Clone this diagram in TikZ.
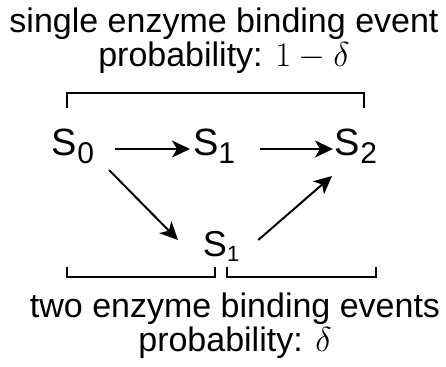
\documentclass[tikz,border=0pt]{standalone}
\usepackage[no-math]{fontspec}
\setmainfont{Liberation Sans}
\usetikzlibrary{arrows.meta, positioning}
\newcommand{\lowsub}[1]{\raisebox{-4pt}{\fontsize{15}{15}\selectfont #1}}
\newcommand{\lowsubsm}[1]{\raisebox{-2.5pt}{\fontsize{11}{11}\selectfont #1}}

\begin{document}
\begin{tikzpicture}[
        x=0.5pt, y=-0.5pt,
        font=\fontsize{17}{17}\selectfont,
        state/.style={inner sep=0pt, anchor=base west, font=\fontsize{19}{19}\selectfont},
        statesm/.style={state, font=\fontsize{18}{18}\selectfont},
        prob/.style={align=center, inner sep=0pt, anchor=base},
        brace/.style={line width=1pt},
        >={Stealth[length=9pt, width=8.5pt, inset=2.5pt]}, line width=1pt
        ]
        \useasboundingbox (0,0) rectangle (446,367);
        % texts
        \node[prob] (top) at (224,67) {single enzyme binding event\\probability: $1-\delta$};
        \node[prob] (bot) at (235,352) {two enzyme binding events\\probability: $\delta$};
        % states
        \node[state] (s0) at (51,156) {S\lowsub{0}};
        \node[state] (s1) at (192,156) {S\lowsub{1}};
        \node[state] (s2) at (334,156) {S\lowsub{2}};
        \node[statesm] (s1b) at (202,257) {S\lowsubsm{1}};
        % arrows
        \draw[->] ([xshift=10pt, yshift=3.5pt]s0.base east) -- ([xshift=-1pt, yshift=3.5pt]s1.base west);
        \draw[->] ([xshift=12pt, yshift=3.5pt]s1.base east) -- ([xshift=-0.5pt, yshift=3.5pt]s2.base west);
        \draw[->] ([xshift=7pt, yshift=-7pt]s0.base east) -- ([xshift=-12pt, yshift=8.5pt]s1b.base west);
        \draw[->] ([xshift=9pt, yshift=8.5pt]s1b.base east) -- ([xshift=-1pt, yshift=-10pt]s2.base west);
        % brackets
        \draw[brace] (66.7,108) |- (364,93.5) -- (364,108);
        \draw[brace] (66.7,267) |- (215,277) -- (215,267);
        \draw[brace] (227,267) |- (376,277) -- (376,267);
    \end{tikzpicture}
\end{document}
